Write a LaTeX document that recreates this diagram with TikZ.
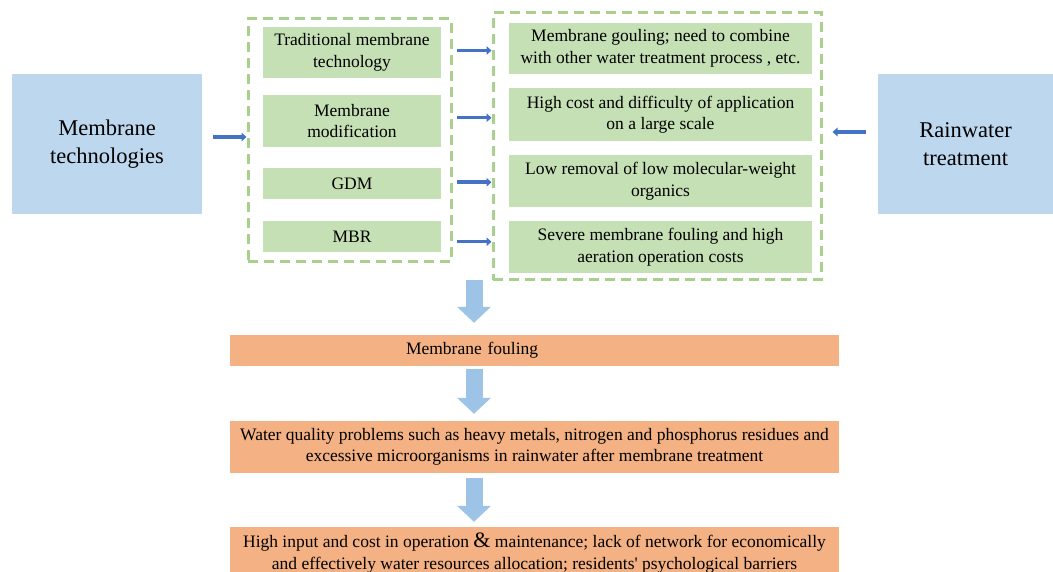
\documentclass[tikz,border=0pt]{standalone}
\usepackage{fontspec}
\setmainfont{Liberation Serif}
\usepackage{tikz}
\usetikzlibrary{arrows.meta, calc}
\definecolor{boxblue}{HTML}{BDD7EE}
\definecolor{boxgreen}{HTML}{C5E0B4}
\definecolor{boxorange}{HTML}{F4B183}
\definecolor{dashgreen}{HTML}{A9D18E}
\definecolor{arrowblue}{HTML}{4472C4}
\definecolor{fatblue}{HTML}{9DC3E6}
\tikzstyle{topic} = [rectangle, fill=boxblue, inner sep=0pt, text centered, align=center, font=\fontsize{22.5}{27.5}\selectfont]
\tikzstyle{process} = [rectangle, fill=boxgreen, inner sep=0pt, text centered, align=center, font=\fontsize{17.5}{21.5}\selectfont]
\tikzstyle{problem} = [rectangle, fill=boxorange, inner sep=0pt, text centered, align=center, font=\fontsize{17.5}{21.5}\selectfont]
\tikzstyle{group} = [rectangle, draw=dashgreen, line width=3pt, dash pattern=on 10pt off 6pt]
\tikzstyle{arrow} = [draw=arrowblue, line width=3.5pt, -{Triangle[length=5pt,width=8.5pt]}]
\tikzstyle{bigarrow} = [draw=fatblue, line width=17pt, -{Triangle[length=16pt,width=33pt]}]

\begin{document}
\begin{tikzpicture}[x=1pt, y=-1pt]
                    \useasboundingbox (0,0) rectangle (1053,572);

                    \node (mt) [topic, minimum width=190pt, minimum height=140pt] at (107,144) {Membrane\\technologies};
                    \node (rt) [topic, minimum width=175pt, minimum height=140pt] at (965.5,144) {Rainwater\\treatment};

                    \node (g1) [group, minimum width=203pt, minimum height=243pt] at (349.5,140.5) {};
                    \node (l1) [process, minimum width=178pt, minimum height=51pt] at (352,52.5) {Traditional membrane\\technology};
                    \node (l2) [process, minimum width=178pt, minimum height=52pt] at (352,121) {Membrane\\modification};
                    \node (l3) [process, minimum width=178pt, minimum height=31pt] at (352,183.5) {GDM};
                    \node (l4) [process, minimum width=178pt, minimum height=31pt] at (352,236.5) {MBR};

                    \node (g2) [group, minimum width=328pt, minimum height=267pt] at (657,146.5) {};
                    \node (r1) [process, minimum width=303pt, minimum height=51pt] at (660.5,48.5) {Membrane gouling; need to combine\\with other water treatment process , etc.};
                    \node (r2) [process, minimum width=303pt, minimum height=53pt] at (660.5,114.5) {High cost and difficulty of application\\on a large scale};
                    \node (r3) [process, minimum width=303pt, minimum height=52pt] at (660.5,181) {Low removal of low molecular-weight\\organics};
                    \node (r4) [process, minimum width=303pt, minimum height=52pt] at (660.5,247) {Severe membrane fouling and high\\aeration operation costs};

                    \node (o1) [problem, minimum width=609pt, minimum height=31pt, text width=609pt, align=left] at (534.5,350.5) {\hspace*{176pt}Membrane fouling};
                    \node (o2) [problem, minimum width=609pt, minimum height=52pt] at (534.5,447) {Water quality problems such as heavy metals, nitrogen and phosphorus residues and\\excessive microorganisms in rainwater after membrane treatment};
                    \node (o3) [problem, minimum width=609pt, minimum height=52pt] at (534.5,553) {High input and cost in operation {\fontsize{22}{21.5}\selectfont\&} maintenance; lack of network for economically\\and effectively water resources allocation; residents\textquotesingle{} psychological barriers};

                    \draw[arrow, shorten <=11pt] ([yshift=7pt]mt.east) -- ([yshift=7pt]mt.east -| g1.west);
                    \draw[arrow, shorten <=12pt, shorten >=10pt] ([yshift=12pt]rt.west) -- ([yshift=12pt]rt.west -| g2.east);
                    \foreach \i in {1,...,4} {
                        \coordinate (m\i) at ($(l\i.east)!0.5!(r\i.west)$);
                        \draw[arrow, shorten <=16pt] (l\i.east |- m\i) -- (g2.west |- m\i);
                    }

                    \coordinate (c1) at (474,280);
                    \draw[bigarrow, shorten >=12pt] (c1) -- (c1 |- o1.north);
                    \draw[bigarrow, shorten <=3pt, shorten >=7pt] (c1 |- o1.south) -- (c1 |- o2.north);
                    \draw[bigarrow, shorten <=5pt, shorten >=5pt] (c1 |- o2.south) -- (c1 |- o3.north);
                \end{tikzpicture}
\end{document}
